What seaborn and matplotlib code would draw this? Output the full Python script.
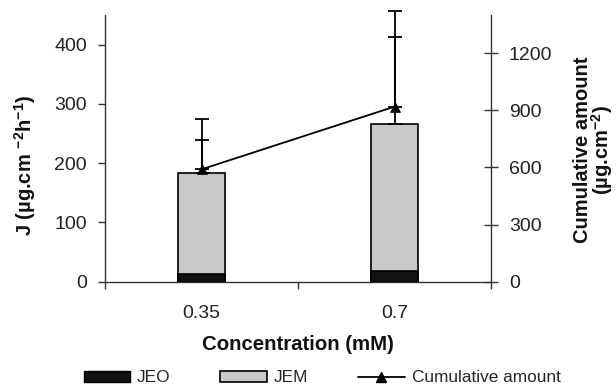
import matplotlib
matplotlib.use('Agg')
import matplotlib.pyplot as plt
import seaborn as sns
import pandas as pd
import numpy as np
from matplotlib.lines import Line2D
from matplotlib.patches import Patch

# ---- data ----
concentration = ['0.35', '0.7']
jeo = [12.5, 18.0]
jem = [170.5, 248.0]
j_err = [91.0, 190.0]
cumulative = [590.0, 919.0]
cumulative_err = [154.0, 368.0]
left_ticks = [0, 100, 200, 300, 400]
right_ticks = [0, 300, 600, 900, 1200]

GRAY = '#c8c9cb'
BLACK = '#111111'
SPINE = '#333333'

sns.set_theme(style='ticks')
plt.rcParams['font.family'] = ['Liberation Sans', 'DejaVu Sans']
plt.rcParams['mathtext.fontset'] = 'custom'
plt.rcParams['mathtext.rm'] = 'Liberation Sans'
plt.rcParams['mathtext.bf'] = 'Liberation Sans:bold'
plt.rcParams['axes.linewidth'] = 1.0
plt.rcParams['axes.edgecolor'] = SPINE

df = pd.DataFrame({'conc': concentration, 'JEO': jeo, 'JEM': jem})
df['total'] = df['JEO'] + df['JEM']

fig = plt.figure(figsize=(6.16, 3.85), dpi=100)
ax = fig.add_axes([0.1705, 0.2683, 0.6266, 0.6927])

sns.barplot(data=df, x='conc', y='total', color=GRAY, width=0.24, saturation=1,
            edgecolor='black', linewidth=1.2, errorbar=None, ax=ax, zorder=2)
sns.barplot(data=df, x='conc', y='JEO', color=BLACK, width=0.24, saturation=1,
            edgecolor='black', linewidth=1.2, errorbar=None, ax=ax, zorder=3)
ax.errorbar(np.arange(len(concentration)), df['total'],
            yerr=[np.zeros(len(concentration)), j_err], fmt='none',
            ecolor='black', elinewidth=1.3, capsize=4.7, capthick=1.3,
            zorder=4, clip_on=False)

ax2 = ax.twinx()
sns.pointplot(x=concentration, y=cumulative, ax=ax2, color='black', markers='^',
              errorbar=None, linewidth=1.3, markersize=7.5, markeredgewidth=0.5)
ax2.errorbar(np.arange(len(concentration)), cumulative,
             yerr=[np.zeros(len(concentration)), cumulative_err], fmt='none',
             ecolor='black', elinewidth=1.3, capsize=4.7, capthick=1.3,
             zorder=5, clip_on=False)

ax.set_ylim(0, 450)
ax2.set_ylim(0, 1400)
ax.set_xlim(-0.5, 1.5)
ax.set_yticks(left_ticks)
ax2.set_yticks(right_ticks)

for a in (ax, ax2):
    a.set_xlabel('')
    a.set_ylabel('')
    a.spines['top'].set_visible(False)
ax.spines['right'].set_visible(False)
ax2.spines['left'].set_visible(False)
ax2.spines['bottom'].set_visible(False)

ax.set_xticks([-0.5, 0.5, 1.5])
ax.set_xticklabels([])
ax.set_xticks([0, 1], minor=True)
ax.set_xticklabels(concentration, minor=True)
ax.tick_params(axis='x', which='major', direction='out', length=5, width=1,
               color=SPINE, bottom=True)
ax.tick_params(axis='x', which='minor', length=0, labelsize=14, pad=17,
               labelcolor='#222222')
ax.tick_params(axis='y', direction='out', length=4.7, width=1, color=SPINE,
               labelsize=14, pad=8.2, labelcolor='#222222', left=True)
ax2.tick_params(axis='y', direction='inout', length=10, width=1, color=SPINE,
                labelsize=14, pad=7.8, labelcolor='#222222', right=True)

fig.text(298 / 616, 1 - 344 / 385, 'Concentration (mM)', ha='center', va='center',
         fontsize=14.7, fontweight='bold', color='#111111')
fig.text(25 / 616, 1 - 165 / 385, r'J (µg.cm $^{\mathbf{-2}}$h$^{\mathbf{-1}}$)',
         rotation=90, ha='center', va='center', fontsize=14.5, fontweight='bold',
         color='#111111')
fig.text(594 / 616, 1 - 150 / 385, 'Cumulative amount\n(µg.cm$^{\\mathbf{-2}}$)',
         rotation=90, ha='center', va='center', multialignment='center',
         fontsize=14.5, fontweight='bold', linespacing=0.85, color='#111111')

handles = [Patch(facecolor=BLACK, edgecolor='black', linewidth=1.0),
           Patch(facecolor=GRAY, edgecolor='black', linewidth=1.2),
           Line2D([], [], color='black', marker='^', markersize=7.5, lw=1.3)]
fig.legend(handles=handles, labels=['JEO', 'JEM', 'Cumulative amount'],
           loc='center', bbox_to_anchor=(322 / 616, 1 - 378 / 385), ncol=3,
           frameon=False, fontsize=12.4, handlelength=2.7, handletextpad=0.4,
           columnspacing=2.9, handleheight=0.65, borderpad=0, borderaxespad=0)

fig.savefig('out.png', dpi=100)
